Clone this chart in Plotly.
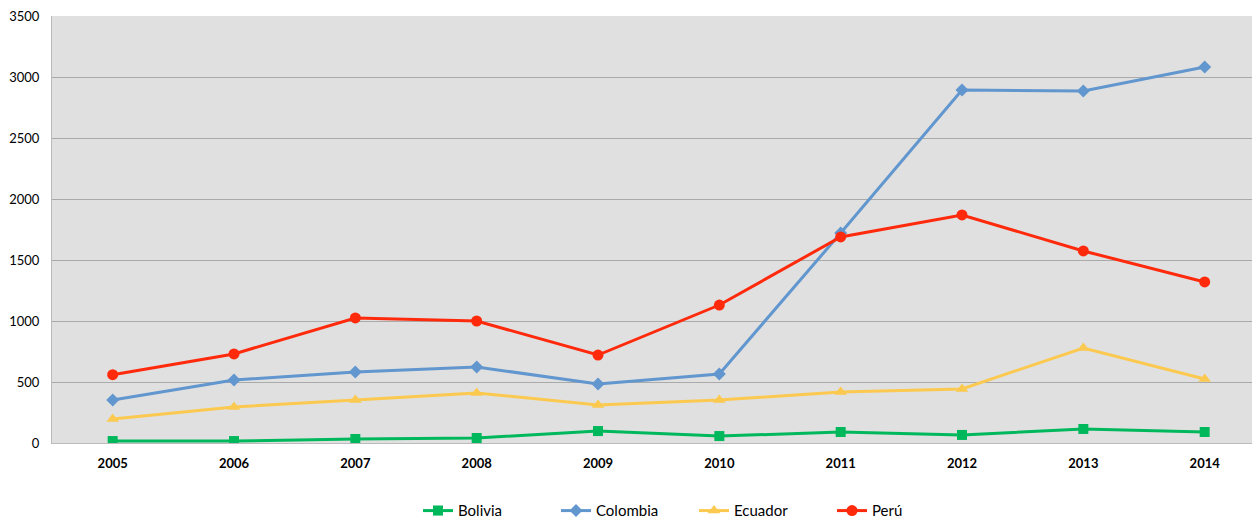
import plotly.graph_objects as go

# Values
ANIOS = ["2005", "2006", "2007", "2008", "2009", "2010", "2011", "2012", "2013", "2014"]

BOLIVIA = [16, 16, 33, 41, 98, 57, 90, 66, 115, 90]
COLOMBIA = [352, 516, 582, 623, 484, 566, 1721, 2893, 2885, 3082]
ECUADOR = [197, 295, 352, 410, 311, 352, 418, 443, 779, 525]
PERU = [560, 730, 1025, 1000, 721, 1131, 1689, 1869, 1574, 1320]

SERIES = [
    ("Bolivia", BOLIVIA, "#00B85C", "square", 10),
    ("Colombia", COLOMBIA, "#6196CE", "diamond", 10),
    ("Ecuador", ECUADOR, "#FBC94F", "triangle-up", 11),
    ("Perú", PERU, "#FF2A0C", "circle", 11),
]

fig = go.Figure()
for nombre, vals, color, simbolo, tam in SERIES:
    fig.add_trace(
        go.Scatter(
            x=ANIOS,
            y=vals,
            mode="lines+markers",
            name=nombre,
            line=dict(color=color, width=3),
            marker=dict(symbol=simbolo, size=tam, color=color),
        )
    )

fig.update_layout(
    width=1252,
    height=522,
    margin=dict(l=52, r=0, t=16, b=79),
    paper_bgcolor="white",
    plot_bgcolor="#E0E0E0",
    font=dict(family="Lato, Open Sans, sans-serif", size=13, color="black"),
    showlegend=True,
    legend=dict(
        orientation="h",
        x=0.305,
        xanchor="left",
        yref="container",
        y=0.053,
        yanchor="top",
        entrywidth=93,
        entrywidthmode="pixels",
        itemwidth=30,
        font=dict(size=15),
    ),
    xaxis=dict(
        type="category",
        range=[-0.5, 9.39],  # original plot area runs past the right edge
        automargin=False,
        showgrid=False,
        showline=True,
        linecolor="#BBBBBB",
        linewidth=1,
        tickfont=dict(size=13, family="Lato, sans-serif", weight="bold"),
        ticks="",
        ticklabelstandoff=8,
    ),
    yaxis=dict(
        range=[0, 3500],
        dtick=500,
        automargin=False,
        ticklabeloverflow="allow",
        showgrid=True,
        gridcolor="#AAAAAA",
        gridwidth=1,
        showline=True,
        linecolor="#BBBBBB",
        linewidth=1,
        zeroline=False,
        ticks="",
        ticklabelstandoff=9,
        tickfont=dict(size=13),
    ),
)

# drop the default 8px page margin so the figure fills the window exactly
fig.write_html(
    "out.html",
    config={"displayModeBar": False},
    post_script="document.body.style.margin='0';",
)
